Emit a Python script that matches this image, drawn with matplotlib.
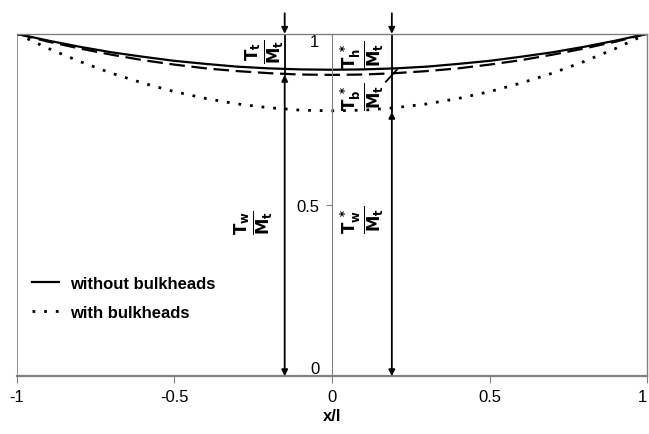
import matplotlib
matplotlib.use("Agg")
from matplotlib import pyplot as plt

plt.rcParams['font.family'] = ['Liberation Sans', 'DejaVu Sans']

# x/l positions
xs = [-1.0, -0.9, -0.8, -0.7, -0.6, -0.5, -0.4, -0.3, -0.2, -0.1, 0.0,
      0.1, 0.2, 0.3, 0.4, 0.5, 0.6, 0.7, 0.8, 0.9, 1.0]
# without bulkheads (solid)
solid = [1.0, 0.980, 0.962, 0.946, 0.933, 0.921, 0.912, 0.904, 0.899, 0.896, 0.895,
         0.896, 0.899, 0.904, 0.912, 0.921, 0.933, 0.946, 0.962, 0.980, 1.0]
# dashed
dashed = [1.0, 0.977, 0.957, 0.939, 0.923, 0.910, 0.899, 0.891, 0.885, 0.881, 0.880,
          0.881, 0.885, 0.891, 0.899, 0.910, 0.923, 0.939, 0.957, 0.977, 1.0]
# with bulkheads (dotted)
dotted = [1.0, 0.957, 0.919, 0.885, 0.856, 0.831, 0.811, 0.795, 0.784, 0.777, 0.775,
          0.777, 0.784, 0.795, 0.811, 0.831, 0.856, 0.885, 0.919, 0.957, 1.0]

xticks = [-1, -0.5, 0, 0.5, 1]
xticklabels = ["-1", "-0.5", "0", "0.5", "1"]
yticks = [0, 0.5, 1]
yticklabels = ["0", "0.5", "1"]

x_left = -0.15
x_right = 0.19

fig = plt.figure(figsize=(6.49, 4.35), dpi=100)
ax = fig.add_axes([0.026, 0.133, 0.971, 0.787])

ax.plot(xs, solid, color="black", lw=1.6, label="without bulkheads")
ax.plot(xs, dashed, color="black", lw=1.6, dashes=(7, 3))
ax.plot(xs, dotted, color="black", lw=2.0, dashes=(1.0, 3.2), label="with bulkheads")

ax.set_xlim(-1, 1)
ax.set_ylim(0, 1)

gray = "#808080"
for s in ax.spines.values():
    s.set_color(gray)
    s.set_linewidth(1.0)
ax.spines['bottom'].set_linewidth(1.6)
ax.spines['left'].set_position(('data', 0))
ax.spines['left'].set_linewidth(0.8)
ax.axvline(-1, color=gray, lw=1.2)

ax.set_xticks(xticks)
ax.set_xticklabels(xticklabels, fontsize=12)
ax.set_yticks(yticks)
ax.set_yticklabels(yticklabels, fontsize=12)
ax.tick_params(axis='x', colors=gray, labelcolor="black", length=5, pad=4)
ax.tick_params(axis='y', colors=gray, labelcolor="black", length=4, pad=5)
ylabs = ax.get_yticklabels()
ylabs[0].set_verticalalignment("bottom")
ylabs[-1].set_verticalalignment("top")
ax.get_xticklabels()[-1].set_horizontalalignment("right")
ax.set_xlabel("x/l", fontsize=12, fontweight="bold", labelpad=3)


def arrow(x, y0, y1, style='-|>'):
    ax.annotate('', xy=(x, y1), xytext=(x, y0),
                arrowprops=dict(arrowstyle=style, color="black", lw=1.3,
                                shrinkA=0, shrinkB=0, mutation_scale=9),
                annotation_clip=False)


arrow(x_left, 1.06, 1.0)
ax.plot([x_left, x_left], [1.0, 0.88], color="black", lw=1.3)
arrow(x_left, 0.88, 0.0, '<|-|>')

arrow(x_right, 1.06, 1.0)
ax.plot([x_right, x_right], [1.0, 0.772], color="black", lw=1.3)
arrow(x_right, 0.772, 0.0, '<|-|>')
ax.plot([0.206, 0.171], [0.895, 0.860], color="black", lw=1.3)

fs = 17
ax.text(-0.21, 0.95, r'$\mathbf{\frac{T_t}{M_t}}$', rotation=90, fontsize=fs,
        ha="center", va="center")
ax.text(0.095, 0.94, r'$\mathbf{\frac{T_h^{\ *}}{M_t}}$', rotation=90, fontsize=fs,
        ha="center", va="center")
ax.text(0.095, 0.82, r'$\mathbf{\frac{T_b^{\ *}}{M_t}}$', rotation=90, fontsize=fs,
        ha="center", va="center")
ax.text(-0.245, 0.45, r'$\mathbf{\frac{T_w}{M_t}}$', rotation=90, fontsize=fs,
        ha="center", va="center")
ax.text(0.095, 0.46, r'$\mathbf{\frac{T_w^{\ *}}{M_t}}$', rotation=90, fontsize=fs,
        ha="center", va="center")

leg = ax.legend(loc="lower left", bbox_to_anchor=(0.0, 0.12), frameon=False,
                prop={"weight": "bold", "size": 12}, handlelength=1.6,
                handletextpad=0.7, labelspacing=0.85)

fig.savefig("out.png", dpi=100)
